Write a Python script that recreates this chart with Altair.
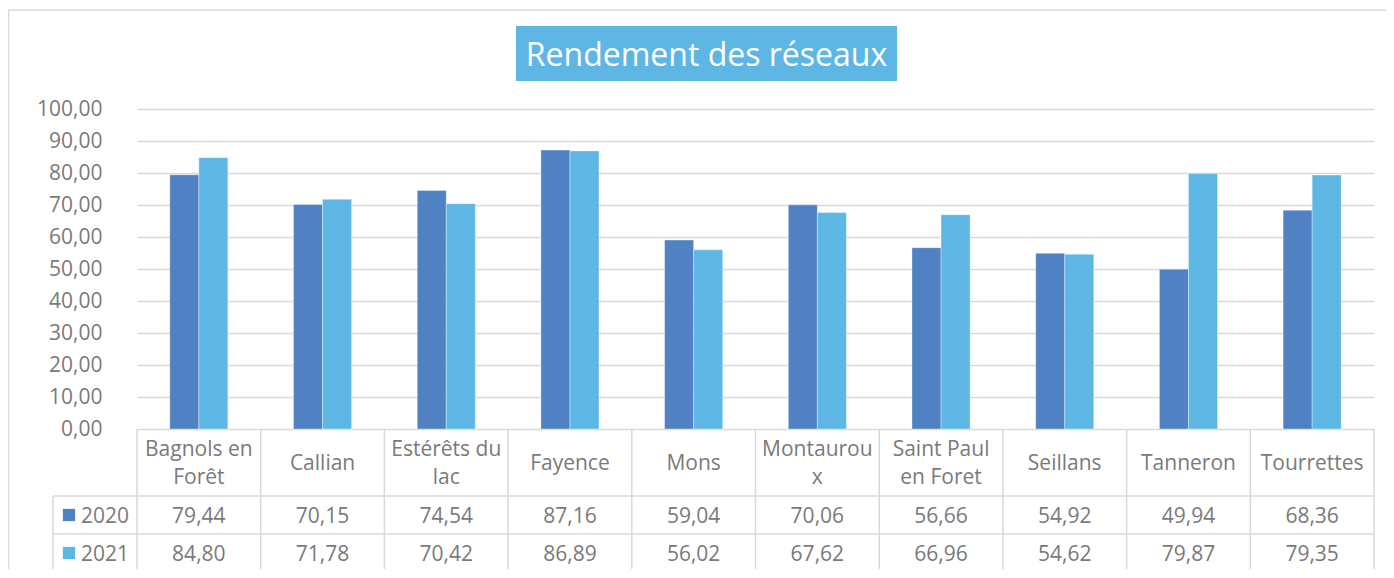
import altair as alt
import pandas as pd

# ---- data ----
categories = ["Bagnols en Forêt", "Callian", "Estérêts du lac", "Fayence", "Mons",
              "Montauroux", "Saint Paul en Foret", "Seillans", "Tanneron", "Tourrettes"]
header_labels = ["Bagnols en\nForêt", "Callian", "Estérêts du\nlac", "Fayence", "Mons",
                 "Montaurou\nx", "Saint Paul\nen Foret", "Seillans", "Tanneron", "Tourrettes"]
years = ["2020", "2021"]
values_2020 = [79.44, 70.15, 74.54, 87.16, 59.04, 70.06, 56.66, 54.92, 49.94, 68.36]
values_2021 = [84.80, 71.78, 70.42, 86.89, 56.02, 67.62, 66.96, 54.62, 79.87, 79.35]
y_ticks = [0, 10, 20, 30, 40, 50, 60, 70, 80, 90, 100]
title_text = "Rendement des réseaux"

# ---- style ----
colors = ["#4f81c3", "#5eb6e5"]
TEXT = "#7a7a7a"
LINE = "#d9d9d9"
FONT = "Open Sans"
FS = 21
LH = 28
W, H = 1237, 320
HDR_BOTTOM, ROW1_BOTTOM, ROW2_BOTTOM = 387, 425, 463
LEFT_COL = -84
ROW_CENTERS = [(HDR_BOTTOM + ROW1_BOTTOM) / 2, (ROW1_BOTTOM + ROW2_BOTTOM) / 2]
HDR_CENTER = (H + HDR_BOTTOM) / 2

rows = []
for i, c in enumerate(categories):
    rows.append({"cat": c, "year": years[0], "row": 0, "value": values_2020[i]})
    rows.append({"cat": c, "year": years[1], "row": 1, "value": values_2021[i]})
df = pd.DataFrame(rows)
hdr = pd.DataFrame({"cat": categories, "label": header_labels})
yrs = pd.DataFrame({"year": years, "row": [0, 1]})

xscale = alt.Scale(domain=categories, paddingInner=0, paddingOuter=0)
X = alt.X("cat:N", scale=xscale, axis=None, sort=categories)
cscale = alt.Scale(domain=years, range=colors)
fmt = "replace(format(datum.value, '.2f'), '.', ',')"
# empty slots either side of the pair of bars leave the gap between groups
offset_domain = ["_gap_l"] + years + ["_gap_r"]
# pixel-identity scale used for the data-table layers drawn below the plot
ident = alt.Scale(domain=[0, H], range=[0, H])
row_scale = alt.Scale(domain=[0, 1], range=ROW_CENTERS)

bars = alt.Chart(df).mark_bar(stroke="#ffffff", strokeWidth=0.6, strokeOpacity=0.6).encode(
    x=X,
    xOffset=alt.XOffset("year:N", scale=alt.Scale(domain=offset_domain, paddingOuter=0.13, paddingInner=0)),
    y=alt.Y("value:Q", scale=alt.Scale(domain=[0, 100], nice=False),
            axis=alt.Axis(values=y_ticks, title=None, grid=True, gridColor=LINE, gridWidth=1.5,
                          ticks=False, domain=False, labelExpr=fmt, labelFont=FONT,
                          labelFontSize=FS, labelColor=TEXT, labelPadding=35)),
    y2=alt.datum(0),
    color=alt.Color("year:N", scale=cscale, legend=None),
)

# table header (category names), block centred vertically in the header row
header = alt.Chart(hdr).transform_calculate(
    nlines="length(split(datum.label, '\\n'))"
).transform_calculate(
    ypos=f"{HDR_CENTER} - (datum.nlines - 1) * {LH / 2}"
).mark_text(font=FONT, fontSize=FS, color=TEXT, lineBreak="\n", dy=1.5,
            lineHeight=LH, baseline="middle", align="center").encode(
    x=X, y=alt.Y("ypos:Q", scale=ident, axis=None), text="label:N")

# table values
vals = alt.Chart(df).transform_calculate(txt=fmt).mark_text(
    font=FONT, fontSize=FS, color=TEXT, baseline="middle", dy=1.5).encode(
    x=X, y=alt.Y("row:Q", scale=row_scale, axis=None), text="txt:N")

# legend column of the data table
keys = alt.Chart(yrs).mark_square(size=150, opacity=1).encode(
    x=alt.value(-68),
    y=alt.Y("row:Q", scale=row_scale, axis=None),
    color=alt.Color("year:N", scale=cscale, legend=None),
)
key_text = alt.Chart(yrs).mark_text(font=FONT, fontSize=FS, color=TEXT, align="left",
                                    baseline="middle", dy=1.5).encode(
    x=alt.value(-56), y=alt.Y("row:Q", scale=row_scale, axis=None), text="year:N")

# table borders
vlines = alt.Chart(hdr).mark_rule(color=LINE, strokeWidth=1.5).encode(
    x=alt.X("cat:N", scale=xscale, axis=None, sort=categories, bandPosition=0),
    y=alt.value(H), y2=alt.value(ROW2_BOTTOM))
vline_right = alt.Chart(hdr.head(1)).mark_rule(color=LINE, strokeWidth=1.5).encode(
    x=alt.value(W), y=alt.value(H), y2=alt.value(ROW2_BOTTOM))
vline_left = alt.Chart(hdr.head(1)).mark_rule(color=LINE, strokeWidth=1.5).encode(
    x=alt.value(LEFT_COL), y=alt.value(HDR_BOTTOM), y2=alt.value(ROW2_BOTTOM))
hl = pd.DataFrame({"yy": [HDR_BOTTOM, ROW1_BOTTOM, ROW2_BOTTOM]})
hlines = alt.Chart(hl).mark_rule(color=LINE, strokeWidth=1.5).encode(
    x=alt.value(LEFT_COL), x2=alt.value(W),
    y=alt.Y("yy:Q", scale=ident, axis=None))

# outer chart frame (top + left edges visible)
frame_top = alt.Chart(hdr.head(1)).mark_rule(color=LINE, strokeWidth=1.5).encode(
    x=alt.value(-128.5), x2=alt.value(W + 20), y=alt.value(-99))
frame_left = alt.Chart(hdr.head(1)).mark_rule(color=LINE, strokeWidth=1.5).encode(
    x=alt.value(-128.5), y=alt.value(-99), y2=alt.value(ROW2_BOTTOM + 10))

# title box
title_box = alt.Chart(hdr.head(1)).mark_rect(color=colors[1]).encode(
    x=alt.value(379), x2=alt.value(760), y=alt.value(-83), y2=alt.value(-28))
title = alt.Chart(pd.DataFrame({"t": [title_text]})).mark_text(
    font=FONT, fontSize=32, color="#ffffff", align="center", baseline="middle").encode(
    x=alt.value(569.5), y=alt.value(-53.5), text="t:N")

chart = alt.layer(
    frame_top, frame_left, bars, vlines, vline_right, vline_left, hlines,
    header, vals, keys, key_text, title_box, title
).resolve_scale(y="independent").properties(
    width=W, height=H,
    autosize=alt.AutoSizeParams(type="none"),
    padding={"left": 129, "top": 101, "right": 12, "bottom": 140},
    background="#ffffff",
).configure_view(strokeWidth=0)

chart.save("out.html", embed_options={"renderer": "svg", "actions": False})
